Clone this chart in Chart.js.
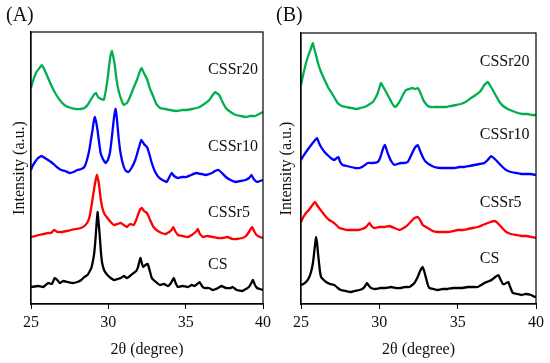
<!DOCTYPE html>
<html>
<head>
<meta charset="utf-8">
<script src="https://cdn.jsdelivr.net/npm/chart.js@4.4.1/dist/chart.umd.min.js"></script>
<style>
  html, body { margin: 0; padding: 0; background: #fff; }
  #wrap { position: relative; width: 550px; height: 363px; }
  .panel { position: absolute; top: 0; width: 275px; height: 363px; }
</style>
</head>
<body>
<div id="wrap">
  <div class="panel" style="left:0"><canvas id="chartA" width="275" height="363"></canvas></div>
  <div class="panel" style="left:275px"><canvas id="chartB" width="275" height="363"></canvas></div>
</div>
<script>
/* XRD patterns, panels (A) and (B), [2θ, intensity a.u.] */

const SAMPLES  = ['CS', 'CSSr5', 'CSSr10', 'CSSr20'];
const X_TICKS  = [25, 30, 35, 40];

// ── Panel A ───────────────────────────────────────────────────────────────────
const A_CS = [[25.0,17],[25.47,18],[25.8,17],[26.1,21],[26.35,20],[26.53,26],[26.7,24],[26.85,21],[27.1,23],[27.38,22],[27.7,21],[28.0,22],[28.25,24],[28.45,27],[28.65,29],[28.77,32],[28.9,36],[28.98,41],[29.08,50],[29.15,61],[29.23,78],[29.3,92],[29.38,80],[29.45,67],[29.52,52],[29.6,41],[29.75,33],[29.94,29],[30.15,26],[30.36,24],[30.6,25],[30.8,26],[31.0,28],[31.2,26],[31.4,28],[31.64,31],[31.8,33],[31.9,36],[32.0,42],[32.08,46],[32.18,40],[32.25,37],[32.4,39],[32.55,40],[32.7,32],[32.81,26],[33.0,23],[33.34,19],[33.6,20],[33.87,18],[34.05,21],[34.23,26],[34.35,21],[34.5,17],[34.8,18],[35.15,17],[35.4,19],[35.57,18],[35.75,20],[35.9,22],[36.05,18],[36.2,16],[36.5,16],[36.74,14],[37.1,16],[37.3,18],[37.6,16],[37.92,16],[38.03,17],[38.3,14],[38.66,13],[38.9,15],[39.09,17],[39.25,21],[39.35,24],[39.48,19],[39.62,16],[39.8,15],[40.0,14]];
const A_CSSr5 = [[25.0,67],[25.3,68],[25.47,69],[25.8,70],[26.1,71],[26.3,71],[26.5,74],[26.7,72],[26.96,72],[27.3,73],[27.6,74],[27.9,75],[28.23,76],[28.45,78],[28.66,82],[28.8,88],[28.94,101],[29.03,110],[29.1,117],[29.18,124],[29.26,129],[29.33,125],[29.4,119],[29.5,106],[29.6,97],[29.75,90],[29.94,86],[30.15,82],[30.36,79],[30.6,80],[30.8,81],[31.0,79],[31.2,77],[31.4,80],[31.64,79],[31.8,84],[31.96,91],[32.07,95],[32.17,96],[32.3,93],[32.5,91],[32.7,84],[32.92,77],[33.2,73],[33.45,71],[33.7,70],[33.94,72],[34.08,74],[34.2,77],[34.32,73],[34.5,69],[34.8,68],[35.15,67],[35.4,69],[35.57,71],[35.7,73],[35.79,75],[35.92,70],[36.1,67],[36.4,68],[36.74,67],[37.05,66],[37.39,66],[37.7,67],[38.03,65],[38.3,65],[38.66,66],[38.9,68],[39.09,72],[39.2,75],[39.3,77],[39.42,73],[39.58,69],[39.8,67],[40.0,66]];
const A_CSSr10 = [[25.0,134],[25.1,138],[25.26,142],[25.45,146],[25.68,148],[25.9,146],[26.1,144],[26.3,142],[26.53,139],[26.75,136],[26.96,134],[27.2,133],[27.5,131],[27.75,132],[28.0,134],[28.25,135],[28.45,137],[28.6,143],[28.77,154],[28.88,165],[28.98,174],[29.05,182],[29.12,187],[29.2,183],[29.3,174],[29.4,162],[29.5,151],[29.65,145],[29.83,141],[29.97,144],[30.1,151],[30.2,163],[30.3,177],[30.38,188],[30.47,195],[30.55,186],[30.66,167],[30.8,150],[31.0,137],[31.15,133],[31.3,132],[31.5,136],[31.74,144],[31.95,155],[32.13,164],[32.3,160],[32.5,157],[32.65,150],[32.81,141],[33.0,133],[33.24,127],[33.5,124],[33.77,122],[33.95,127],[34.09,131],[34.25,128],[34.5,126],[34.75,127],[35.04,127],[35.35,129],[35.68,131],[36.0,130],[36.3,129],[36.7,131],[36.9,133],[37.13,134],[37.35,131],[37.6,127],[37.9,124],[38.24,122],[38.55,123],[38.87,124],[39.1,126],[39.26,129],[39.4,125],[39.62,122],[39.8,123],[40.0,124]];
const A_CSSr20 = [[25.0,216],[25.15,224],[25.35,232],[25.55,236],[25.7,239],[25.85,235],[26.05,228],[26.3,219],[26.6,210],[26.96,202],[27.25,198],[27.6,196],[27.9,195],[28.2,195],[28.45,196],[28.66,199],[28.85,204],[28.98,207],[29.1,210],[29.2,211],[29.3,208],[29.4,206],[29.55,205],[29.7,204],[29.82,212],[29.94,224],[30.05,238],[30.15,249],[30.23,253],[30.32,247],[30.4,241],[30.5,228],[30.6,218],[30.7,211],[30.85,204],[31.0,199],[31.2,201],[31.4,207],[31.6,215],[31.85,224],[32.0,231],[32.15,236],[32.3,231],[32.5,225],[32.7,215],[32.92,207],[33.1,200],[33.34,196],[33.7,195],[34.0,194],[34.4,193],[34.8,194],[35.04,194],[35.4,195],[35.7,196],[35.9,197],[36.2,200],[36.53,204],[36.75,209],[36.92,212],[37.0,211],[37.17,209],[37.35,203],[37.6,196],[37.9,192],[38.24,189],[38.55,188],[38.87,187],[39.2,188],[39.5,188],[39.75,190],[40.0,192]];

// ── Panel B ───────────────────────────────────────────────────────────────────
const B_CS = [[25.0,19],[25.15,20],[25.32,22],[25.5,26],[25.64,32],[25.75,40],[25.81,47],[25.9,60],[25.96,67],[26.03,60],[26.11,47],[26.2,34],[26.28,27],[26.45,24],[26.6,22],[26.85,20],[27.13,19],[27.35,16],[27.55,14],[27.85,13],[28.19,12],[28.45,13],[28.73,14],[28.9,15],[29.05,17],[29.21,21],[29.35,18],[29.47,16],[29.75,15],[30.1,16],[30.4,16],[30.75,17],[31.05,16],[31.39,16],[31.65,17],[31.92,17],[32.1,19],[32.24,21],[32.35,24],[32.45,27],[32.6,33],[32.77,37],[32.88,32],[32.98,26],[33.1,19],[33.2,16],[33.45,15],[33.73,14],[34.05,15],[34.37,15],[34.7,16],[35.0,16],[35.3,16],[35.64,17],[35.95,17],[36.28,17],[36.5,19],[36.7,21],[37.03,23],[37.25,25],[37.4,27],[37.6,29],[37.75,24],[37.88,20],[38.0,20],[38.1,21],[38.24,22],[38.35,17],[38.52,11],[38.8,10],[39.05,9],[39.35,10],[39.69,9],[39.94,7],[40.0,8]];
const B_CSSr5 = [[25.0,82],[25.15,87],[25.32,91],[25.5,94],[25.64,97],[25.78,100],[25.9,102],[26.02,99],[26.15,96],[26.35,92],[26.6,87],[26.8,84],[27.02,82],[27.25,79],[27.45,76],[27.7,75],[27.98,74],[28.3,74],[28.62,74],[28.9,75],[29.15,77],[29.37,81],[29.5,78],[29.69,76],[30.0,77],[30.32,77],[30.65,78],[30.96,76],[31.28,74],[31.55,76],[31.81,79],[32.05,83],[32.24,86],[32.45,87],[32.6,84],[32.77,79],[33.09,76],[33.4,73],[33.73,72],[34.05,72],[34.37,72],[34.7,73],[35.0,74],[35.3,74],[35.64,75],[35.95,76],[36.28,77],[36.6,79],[36.92,81],[37.1,82],[37.3,83],[37.48,82],[37.67,79],[37.9,75],[38.1,72],[38.4,70],[38.73,69],[39.05,68],[39.37,68],[39.7,67],[40.0,66]];
const B_CSSr10 = [[25.0,144],[25.15,148],[25.32,152],[25.55,157],[25.75,161],[25.9,164],[26.02,166],[26.15,161],[26.28,157],[26.5,152],[26.7,149],[26.9,146],[27.13,144],[27.28,146],[27.39,147],[27.5,142],[27.66,139],[27.9,138],[28.19,137],[28.45,136],[28.73,136],[29.0,138],[29.26,141],[29.55,141],[29.9,142],[30.05,146],[30.15,151],[30.25,156],[30.36,159],[30.47,154],[30.58,149],[30.75,143],[30.96,139],[31.15,140],[31.39,141],[31.6,141],[31.81,142],[31.95,146],[32.13,152],[32.3,157],[32.45,159],[32.56,155],[32.66,151],[32.8,146],[32.98,142],[33.25,139],[33.52,137],[33.85,136],[34.16,136],[34.5,136],[34.8,136],[35.1,137],[35.43,137],[35.75,138],[36.07,139],[36.4,140],[36.7,141],[36.92,144],[37.13,148],[37.3,146],[37.56,142],[37.8,138],[38.09,134],[38.4,132],[38.73,131],[39.05,130],[39.37,130],[39.65,130],[40.0,129]];
const B_CSSr20 = [[25.0,219],[25.15,230],[25.32,241],[25.48,249],[25.6,254],[25.75,261],[25.85,255],[25.96,249],[26.1,240],[26.28,232],[26.45,226],[26.6,221],[26.75,216],[26.92,212],[27.15,206],[27.34,201],[27.6,198],[27.87,197],[28.2,196],[28.51,195],[28.8,196],[29.05,197],[29.3,199],[29.58,202],[29.75,206],[29.9,211],[30.0,216],[30.1,221],[30.22,218],[30.36,214],[30.5,210],[30.64,206],[30.8,201],[31.0,197],[31.15,199],[31.35,204],[31.5,209],[31.7,214],[31.9,215],[32.1,216],[32.3,215],[32.45,216],[32.6,212],[32.75,206],[32.88,202],[33.1,198],[33.3,197],[33.6,197],[33.94,197],[34.25,197],[34.58,198],[34.9,199],[35.2,200],[35.5,202],[35.86,206],[36.15,209],[36.4,212],[36.55,215],[36.7,219],[36.92,222],[37.05,219],[37.24,214],[37.45,208],[37.67,202],[37.9,198],[38.2,195],[38.5,193],[38.84,191],[39.15,190],[39.48,190],[39.75,189],[40.0,189]];

// ── Styling / layout ─────────────────────────────────────────────────────────
const COLORS = ['#000000', '#FF0000', '#0000FF', '#00B050'];
const FONT   = "'Liberation Serif', 'Times New Roman', serif";

// where the sample names sit (axis units) and panel geometry in canvas px
const PANELS = {
  A: { letter: '(A)', series: [A_CS, A_CSSr5, A_CSSr10, A_CSSr20], yMax: 272,
       labelX: 36.45, labelY: [39, 91, 157, 234],
       pad: { top: 32, right: 9 }, yWidth: 31, titlePad: 10, letterX: 6 },
  B: { letter: '(B)', series: [B_CS, B_CSSr5, B_CSSr10, B_CSSr20], yMax: 271,
       labelX: 36.41, labelY: [45, 101, 169, 242],
       pad: { top: 33, right: 14 }, yWidth: 26, titlePad: 2, letterX: 1 }
};

const frameAndLabels = {
  id: 'frameAndLabels',
  afterDraw(chart, args, opts) {
    const { ctx, chartArea: a, scales: { x, y } } = chart;
    ctx.save();
    ctx.strokeStyle = '#000';
    ctx.lineWidth = 1.2;
    ctx.strokeRect(a.left, a.top, a.right - a.left, a.bottom - a.top);
    ctx.fillStyle = '#111';
    ctx.textBaseline = 'middle';
    ctx.textAlign = 'left';
    ctx.font = `16px ${FONT}`;
    SAMPLES.forEach((name, i) => {
      ctx.fillText(name, x.getPixelForValue(opts.labelX), y.getPixelForValue(opts.labelY[i]));
    });
    ctx.font = `20px ${FONT}`;
    ctx.fillText(opts.letter, opts.letterX, 16);
    ctx.restore();
  }
};

function renderPanel(id, p) {
  new Chart(document.getElementById(id), {
    type: 'line',
    data: {
      datasets: p.series.map((s, i) => ({
        label: SAMPLES[i],
        data: s.map(([x, y]) => ({ x, y })),
        borderColor: COLORS[i],
        borderWidth: 2.3,
        pointRadius: 0,
        tension: 0.1,
        fill: false
      }))
    },
    options: {
      responsive: false, animation: false, devicePixelRatio: 1,
      layout: { padding: { top: p.pad.top, right: p.pad.right, left: 0, bottom: 0 } },
      plugins: {
        legend: { display: false }, tooltip: { enabled: false },
        frameAndLabels: { labelX: p.labelX, labelY: p.labelY, letter: p.letter, letterX: p.letterX }
      },
      scales: {
        x: {
          type: 'linear', min: 25, max: 40,
          afterBuildTicks: s => { s.ticks = X_TICKS.map(v => ({ value: v })); },
          afterFit: s => { s.height = 59; },
          grid: { display: true, drawOnChartArea: false, tickLength: 5, color: '#000' },
          border: { display: true, color: '#000', width: 1.2 },
          ticks: { color: '#111', font: { family: FONT, size: 16 }, padding: 4, maxRotation: 0 },
          title: { display: true, text: '2θ (degree)', color: '#111', font: { family: FONT, size: 16 }, padding: { top: 0, bottom: 4 } }
        },
        y: {
          min: 0, max: p.yMax,
          afterFit: s => { s.width = p.yWidth; },
          grid: { display: false },
          border: { display: true, color: '#000', width: 1.2 },
          ticks: { display: false },
          title: { display: true, text: 'Intensity (a.u.)', color: '#111', font: { family: FONT, size: 16 }, padding: { top: p.titlePad, bottom: 0 } }
        }
      }
    },
    plugins: [frameAndLabels]
  });
}

renderPanel('chartA', PANELS.A);
renderPanel('chartB', PANELS.B);
</script>
</body>
</html>
